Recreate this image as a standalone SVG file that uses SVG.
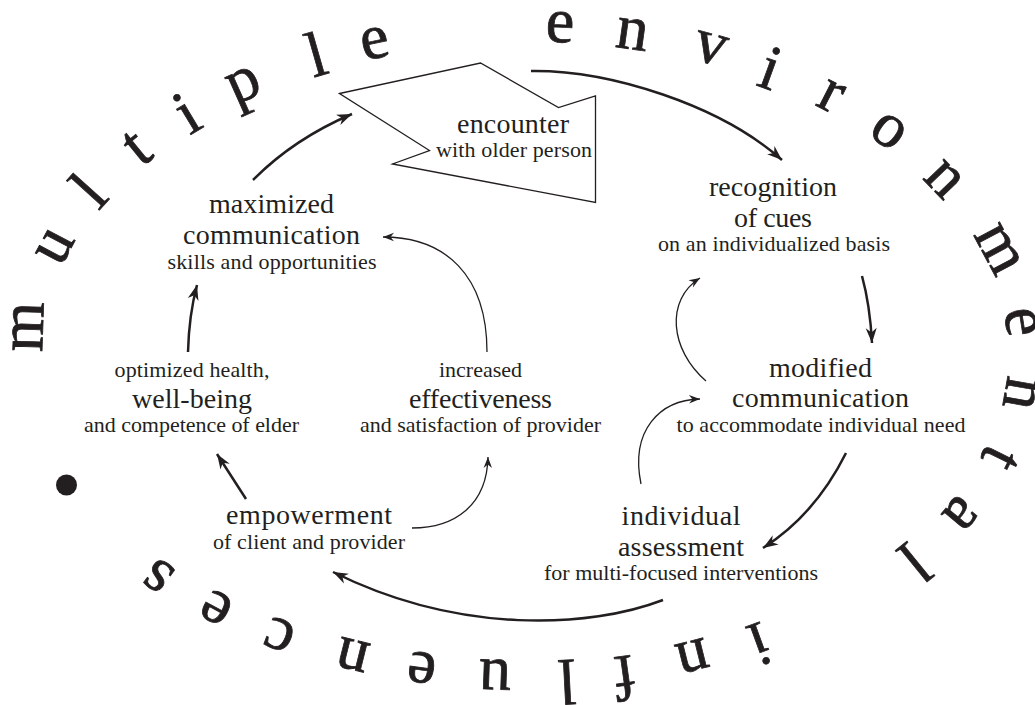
<svg xmlns="http://www.w3.org/2000/svg" width="1035" height="705" viewBox="0 0 1035 705">
<style>
  .h { font-family: "Liberation Serif", serif; font-size: 28px; fill: #231f20; text-anchor: middle; }
  .s { font-family: "Liberation Serif", serif; font-size: 22px; fill: #231f20; text-anchor: middle; }
  .big { font-family: "Liberation Serif", serif; font-size: 64px; fill: #231f20; stroke: #231f20; stroke-width: 0.8; text-anchor: middle; }
  .thick { fill: none; stroke: #231f20; stroke-width: 2.5; marker-end: url(#ah); }
  .thin { fill: none; stroke: #231f20; stroke-width: 1.3; marker-end: url(#as); }
</style>
<defs>
  <marker id="ah" markerUnits="userSpaceOnUse" viewBox="-16 -7 18 14" refX="0" refY="0" markerWidth="18" markerHeight="14" orient="auto">
    <path d="M0,0 L-15,-5.5 L-10.5,0 L-15,5.5 Z" fill="#231f20"/>
  </marker>
  <marker id="as" markerUnits="userSpaceOnUse" viewBox="-12 -6 14 12" refX="0" refY="0" markerWidth="14" markerHeight="12" orient="auto">
    <path d="M0,0 L-11,-4.2 L-7.5,0 L-11,4.2 Z" fill="#231f20"/>
  </marker>
</defs>
<rect width="1035" height="705" fill="#ffffff"/>

<g id="ring">
  <text class="big" x="0" y="14" transform="translate(29,327) rotate(-88)">m</text>
  <text class="big" x="0" y="14" transform="translate(56,247) rotate(-62)">u</text>
  <text class="big" x="0" y="22" transform="translate(88,190) rotate(-48)">l</text>
  <text class="big" x="0" y="18" transform="translate(137,148) rotate(-39)">t</text>
  <text class="big" x="0" y="22" transform="translate(186,112) rotate(-31)">i</text>
  <text class="big" x="0" y="7" transform="translate(247,92) rotate(-24)">p</text>
  <text class="big" x="0" y="22" transform="translate(316,54) rotate(-16)">l</text>
  <text class="big" x="0" y="14" transform="translate(375,44) rotate(-12)">e</text>
  <text class="big" x="0" y="14" transform="translate(560,28) rotate(3)">e</text>
  <text class="big" x="0" y="14" transform="translate(632,35) rotate(8)">n</text>
  <text class="big" x="0" y="14" transform="translate(710,49) rotate(15)">v</text>
  <text class="big" x="0" y="22" transform="translate(771,67) rotate(20)">i</text>
  <text class="big" x="0" y="14" transform="translate(830,97) rotate(27)">r</text>
  <text class="big" x="0" y="14" transform="translate(888,132) rotate(35)">o</text>
  <text class="big" x="0" y="14" transform="translate(943,180) rotate(46)">n</text>
  <text class="big" x="0" y="14" transform="translate(997,250) rotate(62)">m</text>
  <text class="big" x="0" y="14" transform="translate(1020,322) rotate(81)">e</text>
  <text class="big" x="0" y="14" transform="translate(1019,393) rotate(100)">n</text>
  <text class="big" x="0" y="18" transform="translate(1000,458) rotate(116)">t</text>
  <text class="big" x="0" y="14" transform="translate(960,513) rotate(130)">a</text>
  <text class="big" x="0" y="22" transform="translate(915,563) rotate(141)">l</text>
  <text class="big" x="0" y="22" transform="translate(760,645) rotate(160)">i</text>
  <text class="big" x="0" y="14" transform="translate(692,655) rotate(166)">n</text>
  <text class="big" x="0" y="22" transform="translate(625,678) rotate(172)">f</text>
  <text class="big" x="0" y="22" transform="translate(567,682) rotate(177)">l</text>
  <text class="big" x="0" y="14" transform="translate(495,674) rotate(182)">u</text>
  <text class="big" x="0" y="14" transform="translate(422,667) rotate(188)">e</text>
  <text class="big" x="0" y="14" transform="translate(353,654) rotate(194)">n</text>
  <text class="big" x="0" y="14" transform="translate(280,634) rotate(201)">c</text>
  <text class="big" x="0" y="14" transform="translate(217,607) rotate(208)">e</text>
  <text class="big" x="0" y="14" transform="translate(159,575) rotate(216)">s</text>
  <circle cx="66.5" cy="485" r="10.5" fill="#231f20"/>
</g>

<g id="encounter">
  <polygon points="339.5,93.5 480.5,63 558.5,107.5 595.5,96 595.5,202.5 392.5,164 429.5,150.5" fill="none" stroke="#231f20" stroke-width="1.3" stroke-linejoin="miter"/>
  <text class="h" x="513" y="133" textLength="112" lengthAdjust="spacing">encounter</text>
  <text class="s" x="514" y="157" textLength="156" lengthAdjust="spacing">with older person</text>
</g>

<g id="recognition">
  <text class="h" x="773" y="196" textLength="128" lengthAdjust="spacing">recognition</text>
  <text class="h" x="773" y="227" textLength="78" lengthAdjust="spacing">of cues</text>
  <text class="s" x="774" y="251" textLength="232" lengthAdjust="spacing">on an individualized basis</text>
</g>

<g id="modified">
  <text class="h" x="820.5" y="377" textLength="103" lengthAdjust="spacing">modified</text>
  <text class="h" x="820.5" y="407" textLength="177" lengthAdjust="spacing">communication</text>
  <text class="s" x="821" y="432" textLength="289" lengthAdjust="spacing">to accommodate individual need</text>
</g>

<g id="assessment">
  <text class="h" x="681" y="525" textLength="119" lengthAdjust="spacing">individual</text>
  <text class="h" x="681" y="556" textLength="126" lengthAdjust="spacing">assessment</text>
  <text class="s" x="681" y="580" textLength="274" lengthAdjust="spacing">for multi-focused interventions</text>
</g>

<g id="empowerment">
  <text class="h" x="309" y="524" textLength="166" lengthAdjust="spacing">empowerment</text>
  <text class="s" x="309" y="549" textLength="192" lengthAdjust="spacing">of client and provider</text>
</g>

<g id="wellbeing">
  <text class="s" x="192" y="377" textLength="155" lengthAdjust="spacing">optimized health,</text>
  <text class="h" x="192" y="408" textLength="120" lengthAdjust="spacing">well-being</text>
  <text class="s" x="191.5" y="432" textLength="215" lengthAdjust="spacing">and competence of elder</text>
</g>

<g id="effectiveness">
  <text class="s" x="480.5" y="377" textLength="83" lengthAdjust="spacing">increased</text>
  <text class="h" x="480.5" y="408" textLength="143" lengthAdjust="spacing">effectiveness</text>
  <text class="s" x="480.5" y="432" textLength="241" lengthAdjust="spacing">and satisfaction of provider</text>
</g>

<g id="maximized">
  <text class="h" x="271.5" y="213" textLength="125" lengthAdjust="spacing">maximized</text>
  <text class="h" x="271.5" y="244" textLength="177" lengthAdjust="spacing">communication</text>
  <text class="s" x="272" y="269" textLength="209" lengthAdjust="spacing">skills and opportunities</text>
</g>

<g id="connectors">
  <path class="thick" d="M253,180 Q293.5,139 352,114"/>
  <path class="thick" d="M531,71 C610,70 720,105 782,160"/>
  <path class="thick" d="M862,276 Q870,305 872,343"/>
  <path class="thick" d="M846,453 Q815,515 763,548"/>
  <path class="thick" d="M663,600 C590,628 460,635 333,572"/>
  <path class="thick" d="M246,499 L217,454"/>
  <path class="thick" d="M188,352 Q189,315 197,285"/>
  <path class="thin" d="M412,528 C455,528 487,505 488,457"/>
  <path class="thin" d="M487,352 C487,275 445,237 383,237"/>
  <path class="thin" d="M706,381 C670,350 665,300 700,278"/>
  <path class="thin" d="M641,484 C630,430 660,400 700,399"/>
</g>
</svg>
